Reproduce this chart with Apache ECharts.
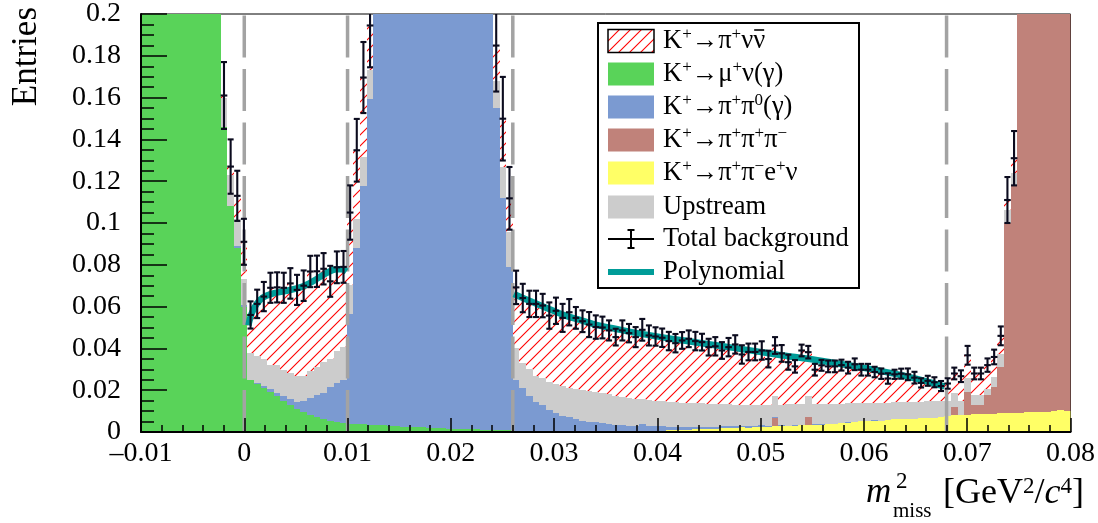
<!DOCTYPE html>
<html>
<head>
<meta charset="utf-8">
<script src="https://cdn.jsdelivr.net/npm/echarts@6/dist/echarts.min.js"></script>
<style>
  html, body { margin: 0; padding: 0; background: #fff; }
  #chart { width: 1098px; height: 523px; }
</style>
</head>
<body>
<div id="chart"></div>
<script>
// binning of the m2miss histograms
var binMin = -0.01, binMax = 0.08, nBins = 140;

// K+ -> mu+ nu (gamma)
var muNu = [
  0.42, 0.55, 0.68, 0.80, 0.90, 0.95, 0.93, 0.85, 0.72, 0.55,
  0.38, 0.24, 0.146, 0.108, 0.088, 0.060, 0.025, 0.023, 0.021, 0.019,
  0.017, 0.015, 0.013, 0.011, 0.0095, 0.008, 0.007, 0.006, 0.0052, 0.0046,
  0.0042, 0.004, 0.0038, 0.0036, 0.0035, 0.0034, 0.0032, 0.003, 0.0028, 0.0026,
  0.0025, 0.0023, 0.0022, 0.002, 0.0019, 0.0017, 0.0016, 0.0015, 0.0014, 0.0013,
  0.0012, 0.0011, 0.001, 0.0009, 0.0009, 0.0008, 0.0007, 0.0006, 0.0005, 0.0005,
  0.0004, 0.0004, 0.0003, 0.0003, 0.0002, 0.0002, 0.0002, 0.0001, 0.0001, 0.0001,
  0, 0, 0, 0, 0, 0, 0, 0, 0, 0,
  0, 0, 0, 0, 0, 0, 0, 0, 0, 0,
  0, 0, 0, 0, 0, 0, 0, 0, 0, 0,
  0, 0, 0, 0, 0, 0, 0, 0, 0, 0,
  0, 0, 0, 0, 0, 0, 0, 0, 0, 0,
  0, 0, 0, 0, 0, 0, 0, 0, 0, 0,
  0, 0, 0, 0, 0, 0, 0, 0, 0, 0
];
// K+ -> pi+ pi- e+ nu
var piPiENu = [
  0, 0, 0, 0, 0, 0, 0, 0, 0, 0,
  0, 0, 0, 0, 0, 0, 0, 0, 0, 0,
  0, 0, 0, 0, 0, 0, 0, 0, 0, 0,
  0, 0, 0, 0, 0, 0, 0, 0, 0, 0,
  0, 0, 0, 0, 0, 0, 0, 0, 0, 0,
  0, 0, 0, 0, 0, 0, 0, 0, 0, 0,
  0, 0, 0, 0, 0, 0, 0, 0, 0, 0,
  0, 0, 0, 0, 0.0003, 0.0004, 0.0005, 0.0006, 0.0007, 0.0008,
  0.0009, 0.0010, 0.0011, 0.0012, 0.0013, 0.0015, 0.0016, 0.0018, 0.0019, 0.0020,
  0.0022, 0.0021, 0.0024, 0.0026, 0.0025, 0.0028, 0.0029, 0.0027, 0.0031, 0.0032,
  0.0033, 0.0035, 0.0034, 0.0037, 0.0038, 0.0041, 0.0044, 0.0048, 0.0051, 0.0053,
  0.0055, 0.0054, 0.0058, 0.0060, 0.0061, 0.0063, 0.0062, 0.0066, 0.0067, 0.0069,
  0.0072, 0.0077, 0.0080, 0.0081, 0.0083, 0.0085, 0.0084, 0.0087, 0.0088, 0.0090,
  0.0089, 0.0092, 0.0093, 0.0095, 0.0094, 0.0097, 0.0096, 0.0099, 0.0103, 0.0100
];
// K+ -> pi+ pi+ pi-
var piPiPi = [
  0, 0, 0, 0, 0, 0, 0, 0, 0, 0,
  0, 0, 0, 0, 0, 0, 0, 0, 0, 0,
  0, 0, 0, 0, 0, 0, 0, 0, 0, 0,
  0, 0, 0, 0, 0, 0, 0, 0, 0, 0,
  0, 0, 0, 0, 0, 0, 0, 0, 0, 0,
  0, 0, 0, 0, 0, 0, 0, 0, 0, 0,
  0, 0, 0, 0, 0, 0, 0, 0, 0, 0,
  0, 0, 0, 0, 0, 0, 0, 0, 0, 0,
  0, 0, 0, 0, 0, 0, 0, 0, 0, 0,
  0, 0, 0, 0, 0, 0.0037, 0, 0, 0, 0,
  0.0037, 0, 0, 0, 0, 0, 0, 0, 0, 0,
  0, 0, 0, 0, 0, 0, 0, 0, 0, 0,
  0, 0, 0.0040, 0, 0.0110, 0.0045, 0.0046, 0.0088, 0.0128, 0.0220,
  0.0911, 0.1088, 0.24, 0.38, 0.55, 0.72, 0.85, 0.92, 0.95, 0.90
];
// K+ -> pi+ pi0 (gamma)
var piPi0 = [
  0, 0, 0, 0, 0, 0, 0, 0, 0, 0,
  0, 0, 0, 0, 0.001, 0.001, 0, 0.0003, 0.0012, 0.0015,
  0.0017, 0.002, 0.0026, 0.0034, 0.0055, 0.0085, 0.0105, 0.0125, 0.0165, 0.019,
  0.0206, 0.0525, 0.084, 0.114, 0.156, 0.26, 0.42, 0.65, 0.95, 1.3,
  1.7, 2.1, 2.4, 2.55, 2.5, 2.3, 1.95, 1.5, 1.1, 0.75,
  0.5, 0.34, 0.23, 0.154, 0.111, 0.078, 0.0243, 0.0204, 0.0165, 0.0139,
  0.0123, 0.0101, 0.0086, 0.0072, 0.0068, 0.0058, 0.0053, 0.0049, 0.0049, 0.0044,
  0.004, 0.0035, 0.0033, 0.003, 0.0028, 0.0033, 0.0024, 0.0022, 0.002, 0.0018,
  0.0016, 0.0015, 0.0014, 0.0013, 0.0012, 0.0011, 0.001, 0.0009, 0.0009, 0.0008,
  0.0007, 0.0007, 0.0006, 0.0006, 0.0005, 0.0005, 0.0004, 0.0004, 0.0003, 0.0003,
  0.0003, 0.0002, 0.0002, 0.0002, 0.0002, 0.0002, 0.0002, 0.0002, 0.0002, 0.0002,
  0.0002, 0, 0, 0, 0, 0, 0, 0, 0, 0,
  0, 0, 0, 0, 0, 0, 0, 0, 0, 0,
  0, 0, 0, 0, 0, 0, 0, 0, 0, 0
];
// upstream background
var upstream = [
  0.02, 0.02, 0.02, 0.02, 0.02, 0.02, 0.02, 0.02, 0.02, 0.02,
  0.02, 0.02, 0.014, 0.015, 0.013, 0.012, 0.013, 0.013, 0.0126, 0.0115,
  0.0135, 0.0125, 0.0125, 0.0126, 0.012, 0.0128, 0.0134, 0.0151, 0.0134, 0.0152,
  0.0158, 0.014, 0.014, 0.014, 0.0135, 0.014, 0.014, 0.014, 0.014, 0.014,
  0.014, 0.014, 0.014, 0.014, 0.014, 0.014, 0.014, 0.014, 0.014, 0.014,
  0.014, 0.014, 0.014, 0.013, 0.015, 0.017, 0.015, 0.012, 0.013, 0.0126,
  0.0133, 0.0135, 0.0141, 0.0145, 0.014, 0.0145, 0.0145, 0.0145, 0.014, 0.014,
  0.014, 0.0137, 0.0135, 0.0134, 0.0129, 0.0119, 0.0123, 0.0122, 0.012, 0.0118,
  0.0117, 0.0116, 0.0115, 0.0114, 0.0113, 0.011, 0.0108, 0.0106, 0.0104, 0.0102,
  0.0101, 0.0101, 0.01, 0.0097, 0.0101, 0.01, 0.0098, 0.0101, 0.0099, 0.0098,
  0.0099, 0.0097, 0.0099, 0.0096, 0.0096, 0.0093, 0.0091, 0.0088, 0.0085, 0.0084,
  0.0083, 0.0086, 0.0083, 0.0082, 0.0082, 0.008, 0.0082, 0.0079, 0.0079, 0.0078,
  0.0076, 0.0073, 0.0066, 0.0069, 0.0063, 0.0046, 0.0046, 0.0033, 0.0047, 0.0065,
  0.006, 0.006, 0.006, 0.006, 0.006, 0.006, 0.006, 0.006, 0.006, 0.006
];
// K+ -> pi+ nu nubar (hatched)
var signal = [
  0, 0, 0, 0, 0, 0, 0, 0, 0, 0,
  0, 0, 0.001, 0.004, 0.011, 0.018, 0.018, 0.025, 0.030, 0.037,
  0.037, 0.0395, 0.043, 0.041, 0.043, 0.0475, 0.046, 0.0445, 0.037, 0.040,
  0.0384, 0.0345, 0.033, 0.038, 0.0215, 0.03, 0.03, 0.03, 0.03, 0.03,
  0.03, 0.03, 0.03, 0.03, 0.03, 0.03, 0.03, 0.03, 0.03, 0.03,
  0.03, 0.03, 0.03, 0.017, 0.023, 0.016, 0.0292, 0.0311, 0.0313, 0.0343,
  0.0345, 0.0317, 0.035, 0.0326, 0.0363, 0.0341, 0.033, 0.0319, 0.0312, 0.0315,
  0.0306, 0.0282, 0.0318, 0.0309, 0.0294, 0.0333, 0.031, 0.0307, 0.0304, 0.0291,
  0.0283, 0.0297, 0.0306, 0.0296, 0.0292, 0.027, 0.0276, 0.0257, 0.0274, 0.0289,
  0.0241, 0.0254, 0.0253, 0.0261, 0.0218, 0.0244, 0.0245, 0.0202, 0.0181, 0.0257,
  0.021, 0.0164, 0.0184, 0.0179, 0.0178, 0.0184, 0.0171, 0.0186, 0.016, 0.0159,
  0.0147, 0.0139, 0.0115, 0.0134, 0.0136, 0.0133, 0.0116, 0.009, 0.0099, 0.0091,
  0.0072, 0.0082, 0.0094, 0.0117, 0.0111, 0.0104, 0.0104, 0.0112, 0.0096, 0.0085,
  0.005, 0.007, 0.005, 0.005, 0.005, 0.005, 0.005, 0.005, 0.005, 0.005
];
// total background uncertainty (half length), null = not drawn
var totalErr = [
  null, null, null, null, null, null, null, null, null, null,
  null, null, 0.016, 0.013, 0.012, 0.011, 0.0065, 0.0068, 0.007, 0.0072,
  0.0072, 0.0072, 0.0073, 0.0072, 0.0073, 0.0075, 0.0075, 0.0075, 0.0074, 0.0076,
  0.0076, 0.013, 0.015, 0.017, 0.02, null, null, null, null, null,
  null, null, null, null, null, null, null, null, null, null,
  null, null, null, 0.022, 0.02, 0.015, 0.008, 0.0068, 0.0063, 0.0063,
  0.0056, 0.0063, 0.0063, 0.0067, 0.0063, 0.0052, 0.0052, 0.006, 0.0056, 0.0052,
  0.0048, 0.004, 0.0048, 0.0044, 0.0048, 0.0052, 0.0048, 0.0044, 0.0044, 0.0044,
  0.0044, 0.004, 0.004, 0.0044, 0.004, 0.004, 0.0044, 0.004, 0.0044, 0.0044,
  0.0044, 0.004, 0.004, 0.0044, 0.004, 0.004, 0.004, 0.0036, 0.003, 0.0028,
  0.003, 0.0028, 0.0026, 0.0028, 0.0028, 0.0026, 0.0028, 0.0028, 0.0028, 0.0028,
  0.0025, 0.0025, 0.0025, 0.0022, 0.0024, 0.0028, 0.0028, 0.0022, 0.0024, 0.0024,
  0.0024, 0.0025, 0.0028, 0.0028, 0.0045, 0.0028, 0.0028, 0.0032, 0.0035, 0.0045,
  0.011, 0.013, null, null, null, null, null, null, null, null
];
// polynomial fits in the two signal regions [x, y]
var polyR1 = [
  [0.0004, 0.051], [0.0007, 0.0565], [0.0012, 0.0613], [0.0018, 0.0644],
  [0.0028, 0.0663], [0.0041, 0.0676], [0.0054, 0.0692], [0.0066, 0.072],
  [0.0079, 0.0759], [0.0089, 0.0779], [0.0094, 0.0779], [0.0099, 0.0768]
];
var polyR2 = [
  [0.0261, 0.0660], [0.0279, 0.0622], [0.0295, 0.0589], [0.0311, 0.0557],
  [0.0327, 0.0533], [0.0343, 0.0510], [0.0359, 0.0494], [0.0375, 0.0478],
  [0.0420, 0.0441], [0.0469, 0.0406], [0.0517, 0.0370], [0.0555, 0.0343],
  [0.0604, 0.0303], [0.0635, 0.0273], [0.0662, 0.0240], [0.0678, 0.0218]
];
// region boundaries
var regionEdges = [0, 0.01, 0.026, 0.068];

var SERIF = '"Liberation Serif", "Times New Roman", serif';
var TEAL = '#009c98';

function makeHatch() {
  var s = 11;
  var c = document.createElement('canvas');
  c.width = s; c.height = s;
  var g = c.getContext('2d');
  g.strokeStyle = '#ff0000';
  g.lineWidth = 1.1;
  g.beginPath();
  g.moveTo(-1, s + 1); g.lineTo(s + 1, -1);
  g.moveTo(-1, 1); g.lineTo(1, -1);
  g.moveTo(s - 1, s + 1); g.lineTo(s + 1, s - 1);
  g.stroke();
  return c;
}
var hatch = { image: makeHatch(), repeat: 'repeat' };

var layers = [
  { values: muNu, fill: '#59d359' },
  { values: piPiENu, fill: '#ffff66' },
  { values: piPiPi, fill: '#c0827a' },
  { values: piPi0, fill: '#7b9ad1' },
  { values: upstream, fill: '#cccccc' },
  { values: signal, fill: hatch }
];

// stack the layers bin by bin
var binW = (binMax - binMin) / nBins;
var stackTop = [];
for (var i = 0; i < nBins; i++) stackTop.push(0);
var histSeries = layers.map(function (l) {
  var d = [];
  for (var i = 0; i < nBins; i++) {
    var lo = binMin + i * binW;
    d.push([lo, lo + binW, stackTop[i], stackTop[i] + l.values[i]]);
    stackTop[i] += l.values[i];
  }
  return {
    type: 'custom',
    clip: true,
    z: 2,
    renderItem: function (params, api) {
      var a = api.coord([api.value(0), api.value(3)]);
      var b = api.coord([api.value(1), api.value(2)]);
      var cs = params.coordSys;
      var x0 = Math.round(a[0]), x1 = Math.round(b[0]);
      var y0 = Math.round(a[1]), y1 = Math.round(b[1]);
      var r = echarts.graphic.clipRectByRect(
        { x: x0, y: y0, width: x1 - x0, height: y1 - y0 },
        { x: cs.x, y: cs.y, width: cs.width, height: cs.height });
      if (!r || r.height <= 0) return;
      return { type: 'rect', shape: r, style: { fill: l.fill } };
    },
    encode: { x: [0, 1], y: [2, 3] },
    data: d
  };
});

var errData = [];
for (var i = 0; i < nBins; i++) {
  if (totalErr[i] == null) continue;
  var lo = binMin + i * binW;
  errData.push([lo + binW / 2, stackTop[i], stackTop[i] - totalErr[i], stackTop[i] + totalErr[i], lo, lo + binW]);
}

var chart = echarts.init(document.getElementById('chart'));

function tickFmt(v) {
  var s = String(parseFloat(v.toFixed(3)));
  return s.charAt(0) === '-' ? '\u2013' + s.slice(1) : s;
}

// text widths, used to place the bar over the anti-neutrino
var measureCtx = document.createElement('canvas').getContext('2d');
function textW(t, size) {
  measureCtx.font = size + 'px ' + SERIF;
  return measureCtx.measureText(t).width;
}

var LEG_FS = 26.5, LEG_SUP = 17;
function legendText(y, text) {
  return {
    type: 'text', x: 663, y: y, z: 101,
    style: {
      text: text, verticalAlign: 'middle', align: 'left',
      rich: {
        t: { fontFamily: SERIF, fontSize: LEG_FS, color: '#000', lineHeight: 30 },
        s: { fontFamily: SERIF, fontSize: LEG_SUP, color: '#000', lineHeight: 12, verticalAlign: 'top' }
      }
    }
  };
}

var rowY = [41, 74, 107, 140, 173, 207, 239, 272];
var swX = 608, swW = 46, swH = 23;
function swatch(y, fill, stroke) {
  return {
    type: 'rect', z: 101,
    shape: { x: swX, y: y - swH / 2, width: swW, height: swH },
    style: { fill: fill, stroke: stroke || null, lineWidth: stroke ? 1.5 : 0 }
  };
}
var barX0 = 663 + textW('K', LEG_FS) + textW('+', LEG_SUP) + textW('\u2192\u03c0', LEG_FS) +
  textW('+', LEG_SUP) + textW('\u03bd', LEG_FS);
var barX1 = barX0 + textW('\u03bd', LEG_FS);

var legend = [
  { type: 'rect', z: 100, shape: { x: 598, y: 23, width: 261, height: 265 },
    style: { fill: '#fff', stroke: '#000', lineWidth: 2 } },
  swatch(rowY[0], hatch, '#000'),
  swatch(rowY[1], '#59d359'),
  swatch(rowY[2], '#7b9ad1'),
  swatch(rowY[3], '#c0827a'),
  swatch(rowY[4], '#ffff66'),
  swatch(rowY[5], '#cccccc'),
  { type: 'line', z: 101, shape: { x1: swX, y1: rowY[6], x2: swX + swW, y2: rowY[6] }, style: { stroke: '#000', lineWidth: 2 } },
  { type: 'line', z: 101, shape: { x1: swX + swW / 2, y1: rowY[6] - 9, x2: swX + swW / 2, y2: rowY[6] + 9 }, style: { stroke: '#000', lineWidth: 2 } },
  { type: 'line', z: 101, shape: { x1: swX + swW / 2 - 3.5, y1: rowY[6] - 9, x2: swX + swW / 2 + 3.5, y2: rowY[6] - 9 }, style: { stroke: '#000', lineWidth: 2 } },
  { type: 'line', z: 101, shape: { x1: swX + swW / 2 - 3.5, y1: rowY[6] + 9, x2: swX + swW / 2 + 3.5, y2: rowY[6] + 9 }, style: { stroke: '#000', lineWidth: 2 } },
  { type: 'line', z: 101, shape: { x1: swX, y1: rowY[7], x2: swX + swW, y2: rowY[7] }, style: { stroke: TEAL, lineWidth: 6 } },
  legendText(rowY[0], '{t|K}{s|+}{t|\u2192\u03c0}{s|+}{t|\u03bd\u03bd}'),
  { type: 'line', z: 101, shape: { x1: barX0 + 1, y1: rowY[0] - 11, x2: barX1 - 1, y2: rowY[0] - 11 }, style: { stroke: '#000', lineWidth: 1.6 } },
  legendText(rowY[1], '{t|K}{s|+}{t|\u2192\u03bc}{s|+}{t|\u03bd(\u03b3)}'),
  legendText(rowY[2], '{t|K}{s|+}{t|\u2192\u03c0}{s|+}{t|\u03c0}{s|0}{t|(\u03b3)}'),
  legendText(rowY[3], '{t|K}{s|+}{t|\u2192\u03c0}{s|+}{t|\u03c0}{s|+}{t|\u03c0}{s|\u2212}'),
  legendText(rowY[4], '{t|K}{s|+}{t|\u2192\u03c0}{s|+}{t|\u03c0}{s|\u2212}{t|e}{s|+}{t|\u03bd}'),
  legendText(rowY[5], '{t|Upstream}'),
  legendText(rowY[6], '{t|Total background}'),
  legendText(rowY[7], '{t|Polynomial}')
];

var titles = [
  { type: 'text', x: 27, y: 7, rotation: Math.PI / 2,
    style: { text: 'Entries', fontFamily: SERIF, fontSize: 35, fill: '#000', align: 'right', verticalAlign: 'middle' } },
  { type: 'text', x: 866, y: 493,
    style: { text: 'm', fontFamily: SERIF, fontStyle: 'italic', fontSize: 35, fill: '#000', align: 'left', verticalAlign: 'middle' } },
  { type: 'text', x: 896, y: 482,
    style: { text: '2', fontFamily: SERIF, fontSize: 23, fill: '#000', align: 'left', verticalAlign: 'middle' } },
  { type: 'text', x: 893, y: 511,
    style: { text: 'miss', fontFamily: SERIF, fontSize: 21, fill: '#000', align: 'left', verticalAlign: 'middle' } },
  { type: 'text', x: 943, y: 494,
    style: {
      text: '{t|[GeV}{s|2}{t|/}{i|c}{s|4}{t|]}', align: 'left', verticalAlign: 'middle',
      rich: {
        t: { fontFamily: SERIF, fontSize: 36, color: '#000', lineHeight: 38 },
        i: { fontFamily: SERIF, fontStyle: 'italic', fontSize: 36, color: '#000', lineHeight: 38 },
        s: { fontFamily: SERIF, fontSize: 23, color: '#000', lineHeight: 16, verticalAlign: 'top' }
      }
    } }
];

var option = {
  animation: false,
  backgroundColor: '#fff',
  grid: { left: 141, right: 25, top: 12, bottom: 91, show: true, borderColor: '#000', borderWidth: 1, backgroundColor: 'transparent' },
  xAxis: {
    type: 'value', min: -0.01, max: 0.08, interval: 0.01, z: 10,
    axisLine: { show: true, onZero: false, lineStyle: { color: '#000', width: 2 } },
    axisTick: { show: true, inside: true, length: 14, lineStyle: { color: '#000', width: 1.5 } },
    minorTick: { show: true, splitNumber: 5, length: 7, lineStyle: { color: '#000', width: 1.5 } },
    axisLabel: { fontFamily: SERIF, fontSize: 28, color: '#000', margin: 8, formatter: tickFmt },
    splitLine: { show: false }
  },
  yAxis: {
    type: 'value', min: 0, max: 0.2, interval: 0.02, z: 10,
    axisLine: { show: true, onZero: false, lineStyle: { color: '#000', width: 2 } },
    axisTick: { show: true, inside: true, length: 26, lineStyle: { color: '#000', width: 1.5 } },
    minorTick: { show: true, splitNumber: 4, length: 13, lineStyle: { color: '#000', width: 1.5 } },
    axisLabel: { fontFamily: SERIF, fontSize: 28, color: '#000', margin: 20, formatter: tickFmt },
    splitLine: { show: false }
  },
  graphic: legend.concat(titles),
  series: histSeries.concat([
    {
      type: 'custom', clip: true, z: 3,
      renderItem: function (params, api) {
        var top = api.coord([api.value(0), 0.2]);
        var bot = api.coord([api.value(0), 0]);
        return { type: 'line', shape: { x1: top[0], y1: bot[1], x2: top[0], y2: top[1] },
          style: { stroke: '#a3a3a3', lineWidth: 3.5, lineDash: [42, 11.5] } };
      },
      encode: { x: 0 },
      data: regionEdges.map(function (v) { return [v]; })
    },
    { type: 'line', z: 4, data: polyR1, smooth: 0.35, symbol: 'none', lineStyle: { color: TEAL, width: 6.5 } },
    { type: 'line', z: 4, data: polyR2, smooth: 0.35, symbol: 'none', lineStyle: { color: TEAL, width: 6.5 } },
    {
      type: 'custom', clip: true, z: 5,
      renderItem: function (params, api) {
        var c = api.coord([api.value(0), api.value(1)]);
        var lo = api.coord([api.value(0), api.value(2)]);
        var hi = api.coord([api.value(0), api.value(3)]);
        var l = api.coord([api.value(4), api.value(1)]);
        var r = api.coord([api.value(5), api.value(1)]);
        var st = { stroke: '#0b0b1e', lineWidth: 2.1 };
        var cap = 3;
        return { type: 'group', children: [
          { type: 'line', shape: { x1: c[0], y1: lo[1], x2: c[0], y2: hi[1] }, style: st },
          { type: 'line', shape: { x1: c[0] - cap, y1: lo[1], x2: c[0] + cap, y2: lo[1] }, style: st },
          { type: 'line', shape: { x1: c[0] - cap, y1: hi[1], x2: c[0] + cap, y2: hi[1] }, style: st },
          { type: 'line', shape: { x1: l[0], y1: c[1], x2: r[0], y2: c[1] }, style: st }
        ] };
      },
      encode: { x: 0, y: [1, 2, 3] },
      data: errData
    }
  ])
};
chart.setOption(option);
</script>
</body>
</html>
